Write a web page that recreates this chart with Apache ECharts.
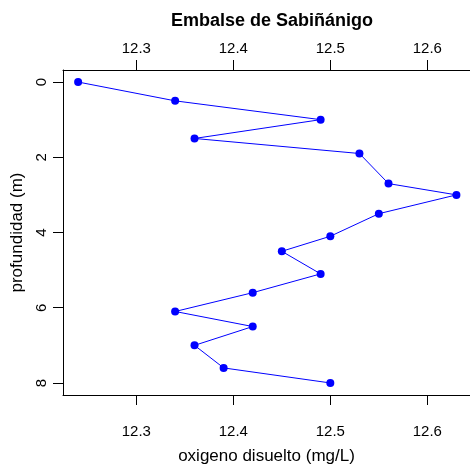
<!DOCTYPE html>
<html>
<head>
<meta charset="utf-8">
<script src="https://cdn.jsdelivr.net/npm/echarts@6/dist/echarts.min.js"></script>
<style>html,body{margin:0;padding:0;background:#fff}#c{width:470px;height:470px}</style>
</head>
<body>
<div id="c"></div>
<script>
var depth = [0, 0.5, 1.0, 1.5, 1.9, 2.7, 3.0, 3.5, 4.1, 4.5, 5.1, 5.6, 6.1, 6.5, 7.0, 7.6, 8.0];
var oxygen = [12.24, 12.34, 12.49, 12.36, 12.53, 12.56, 12.63, 12.55, 12.50, 12.45, 12.49, 12.42, 12.34, 12.42, 12.36, 12.39, 12.50];
var xTicks = [12.3, 12.4, 12.5, 12.6];
var yTicks = [0, 2, 4, 6, 8];
var titleText = 'Embalse de Sabiñánigo';
var xName = 'oxigeno disuelto (mg/L)';
var yName = 'profundidad (m)';

var xmin = 12.2244, xmax = 12.644;
var font = 'Liberation Sans, Arial, sans-serif';
var pts = depth.map(function (d, i) { return [oxygen[i], d]; });

function xAxisCfg(pos, margin, extra) {
  var c = {
    type: 'value', position: pos, min: xmin, max: xmax,
    axisLine: { show: true, onZero: false, lineStyle: { color: '#000', width: 1 } },
    axisTick: { show: true, inside: false, length: 10, lineStyle: { color: '#000' },
      customValues: xTicks },
    axisLabel: { show: true, color: '#000', fontSize: 15, fontFamily: font, margin: margin,
      customValues: xTicks, formatter: function (v) { return v.toFixed(1); } },
    splitLine: { show: false }
  };
  for (var k in extra) c[k] = extra[k];
  return c;
}

var chart = echarts.init(document.getElementById('c'));
chart.setOption({
  animation: false,
  title: { text: titleText, left: 267, top: 7, textAlign: 'center',
    textStyle: { fontSize: 18, fontWeight: 'bold', fontFamily: font, color: '#000' } },
  grid: { left: 63, top: 70, right: 0, height: 326, show: false, containLabel: false },
  xAxis: [
    xAxisCfg('bottom', 29, { name: xName, nameLocation: 'middle', nameGap: 53,
      nameTextStyle: { fontSize: 17, fontFamily: font, color: '#000' } }),
    xAxisCfg('top', 14, {})
  ],
  yAxis: {
    type: 'value', inverse: true, min: -0.32, max: 8.32,
    axisLine: { show: true, onZero: false, lineStyle: { color: '#000' } },
    axisTick: { show: true, length: 10, customValues: yTicks, lineStyle: { color: '#000' } },
    axisLabel: { show: true, rotate: 90, color: '#000', fontSize: 15, fontFamily: font, margin: 14,
      customValues: yTicks },
    splitLine: { show: false },
    name: yName, nameLocation: 'middle', nameGap: 36,
    nameTextStyle: { fontSize: 17, fontFamily: font, color: '#000' }
  },
  series: [{
    type: 'line', data: pts, xAxisIndex: 0,
    symbol: 'circle', symbolSize: 8,
    lineStyle: { color: '#0000FF', width: 1 },
    itemStyle: { color: '#0000FF' }
  }]
});
</script>
</body>
</html>
